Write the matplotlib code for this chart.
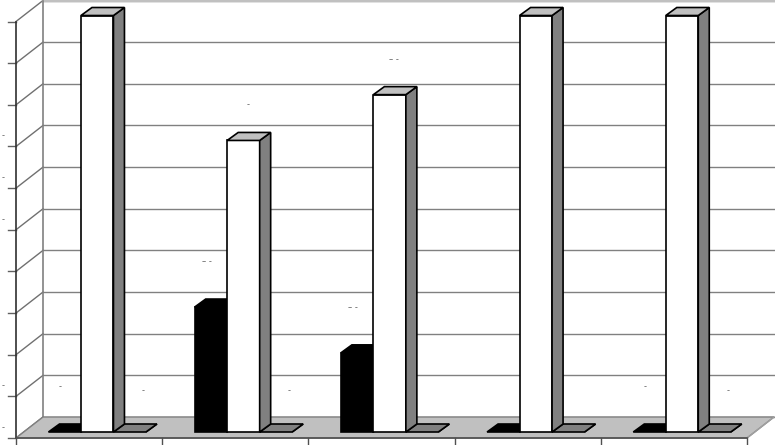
import matplotlib
matplotlib.use('Agg')
import matplotlib.pyplot as plt
from matplotlib.patches import Polygon

# values, axis 0-100, labels too small to read
series_a = [0, 30, 19, 0, 0]      # black
series_b = [100, 70, 81, 100, 100]  # white
series_c = [0, 0, 0, 0, 0]        # grey
grid_values = [0, 10, 20, 30, 40, 50, 60, 70, 80, 90, 100]
# the data labels come out as tiny specks in the original
label_a = ['-', '– -', '– -', '', '-']
label_b = ['', '-', '– -', '', '']
label_c = ['-', '-', '', '', '-']
# only these tick labels leave a mark at the left edge
tick_specks = [0, 10, 50, 60, 70]

W, H = 775, 445
x0_px, group_px = 16, 146.2
base_px, unit_px = 432, 4.165

fig = plt.figure(figsize=(W / 100, H / 100), dpi=100)
ax = fig.add_axes([0, 0, 1, 1])
ax.set_xlim(-x0_px / group_px, (W - x0_px) / group_px)
ax.set_ylim((base_px - H) / unit_px, base_px / unit_px)
ax.axis('off')

# depth of a bar and of the whole box, in axis units
bar_dx, bar_dy = 11 / group_px, 8 / unit_px
box_dx, box_dy = 27 / group_px, 21 / unit_px
floor_y = -6 / unit_px   # front edge of the floor
n = len(series_a)
bar_w = 1 / 4.5
gap = bar_w


def poly(pts, fc, lw=1.2, ec='black', z=3):
    ax.add_patch(Polygon(pts, closed=True, fc=fc, ec=ec, lw=lw, zorder=z, joinstyle='miter'))


def bar3d(x, v, fc, z):
    if v > 0:
        poly([(x, 0), (x + bar_w, 0), (x + bar_w, v), (x, v)], fc, z=z)
    # side and top
    poly([(x + bar_w, 0), (x + bar_w + bar_dx, bar_dy), (x + bar_w + bar_dx, v + bar_dy), (x + bar_w, v)],
         'black' if fc == 'black' else '#808080', z=z)
    top = '#c0c0c0' if fc == 'white' else fc
    poly([(x, v), (x + bar_dx, v + bar_dy), (x + bar_w + bar_dx, v + bar_dy), (x + bar_w, v)], top, z=z)


# floor
wall_x = box_dx
poly([(0, floor_y), (wall_x, floor_y + box_dy), (5 + wall_x, floor_y + box_dy), (5, floor_y)],
     '#c0c0c0', lw=1.0, ec='#808080', z=1)

# grid lines on back wall and side wall
for g in grid_values:
    y = floor_y + g
    ax.plot([wall_x, 5 + wall_x], [y + box_dy, y + box_dy], color='#808080', lw=1.0, zorder=0.5)
    ax.plot([0, wall_x], [y, y + box_dy], color='#707070', lw=1.0, zorder=0.5)
    ax.plot([-8 / group_px, 0], [y, y], color='#606060', lw=1.0, zorder=0.5)
top_y = floor_y + grid_values[-1] + box_dy
ax.plot([wall_x, 5 + wall_x], [top_y, top_y], color='#c0c0c0', lw=1.6, zorder=0.6)
ax.plot([wall_x, wall_x], [floor_y + box_dy, top_y], color='#808080', lw=1.2, zorder=0.6)
ax.plot([0, 0], [floor_y, floor_y + grid_values[-1]], color='#303030', lw=1.2, zorder=2)
ax.plot([5, 5 + wall_x], [floor_y, floor_y + box_dy], color='#a0a0a0', lw=1.0, zorder=2)

# front axis and category ticks
ax.plot([0, 5], [floor_y, floor_y], color='#505050', lw=1.2, zorder=2)
for i in range(n + 1):
    ax.plot([i, i], [floor_y, floor_y - 7 / unit_px], color='#505050', lw=1.0, zorder=2)

for g in tick_specks:
    ax.text(-13 / group_px, floor_y + g + 2.5, '-', fontsize=6, color='#606060',
            ha='center', va='center', zorder=5)

# bars
for i in range(n):
    xa = i + gap
    xb = xa + bar_w
    xc = xb + bar_w
    bar3d(xa, series_a[i], 'black', 3)
    bar3d(xc, series_c[i], '#808080', 3)
    bar3d(xb, series_b[i], 'white', 4)
    # tiny labels
    if label_a[i]:
        ax.text(xa + bar_w / 2 - 0.03, series_a[i] + 11, label_a[i], fontsize=6, color='#606060',
                ha='center', va='center', zorder=5)
    if label_b[i]:
        ax.text(xb + bar_w / 2 + 0.03, series_b[i] + 8.5, label_b[i], fontsize=6, color='#606060',
                ha='center', va='center', zorder=5)
    if label_c[i]:
        ax.text(xc + bar_w / 2 + 0.09, series_c[i] + 10, label_c[i], fontsize=6, color='#606060',
                ha='center', va='center', zorder=5)

fig.savefig('out.png', dpi=100, facecolor='white')
